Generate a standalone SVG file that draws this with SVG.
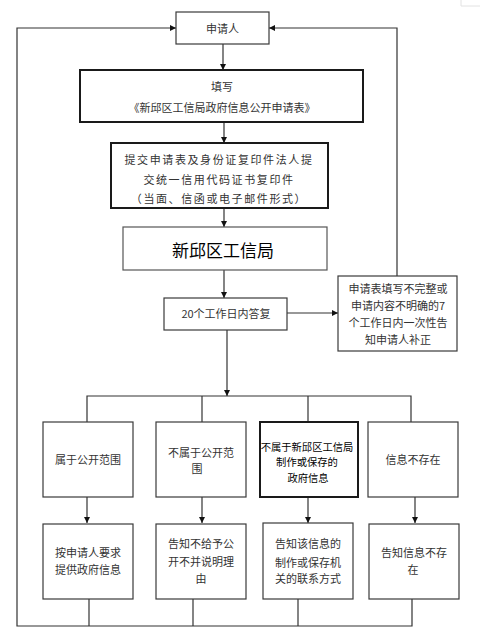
<svg xmlns="http://www.w3.org/2000/svg" width="487" height="641" viewBox="0 0 487 641">
<style>
.box{fill:#fff;stroke:#3a3a3a;stroke-width:1.2}
.thick{fill:#fff;stroke:#1a1a1a;stroke-width:2}
.t{font-family:"Noto Sans CJK SC","Noto Sans",sans-serif;font-size:11px;fill:#333;text-anchor:middle;dominant-baseline:central}
.k{fill:#000}
.ln{fill:none;stroke:#333;stroke-width:1.2}
</style>
<defs>
<marker id="ah" viewBox="0 0 10 10" refX="10" refY="5" markerWidth="6" markerHeight="6" markerUnits="userSpaceOnUse" orient="auto">
<path d="M0,0 L10,5 L0,10 z" fill="#111"/>
</marker>
</defs>
<rect width="487" height="641" fill="#fff"/>
<path d="M461,0 V6 H480" fill="none" stroke="#e2e2e2" stroke-width="1"/>
<g id="connectors">
<path class="ln" d="M223,44 V70" marker-end="url(#ah)"/>
<path class="ln" d="M224,122 V143" marker-end="url(#ah)"/>
<path class="ln" d="M224,208 V227" marker-end="url(#ah)"/>
<path class="ln" d="M224,270 V298" marker-end="url(#ah)"/>
<path class="ln" d="M287,313 H338" marker-end="url(#ah)"/>
<path class="ln" d="M397,276 V28 H269" marker-end="url(#ah)"/>
<path class="ln" d="M227,330 V396" marker-end="url(#ah)"/>
<path class="ln" d="M87,422 V396 H411 V422"/>
<path class="ln" d="M202,396 V422"/>
<path class="ln" d="M308,396 V422"/>
<path class="ln" d="M87,497 V523" marker-end="url(#ah)"/>
<path class="ln" d="M202,497 V523" marker-end="url(#ah)"/>
<path class="ln" d="M308,497 V523" marker-end="url(#ah)"/>
<path class="ln" d="M415,497 V523" marker-end="url(#ah)"/>
<path class="ln" d="M89,599 V626"/>
<path class="ln" d="M193,599 V626"/>
<path class="ln" d="M298,599 V626"/>
<path class="ln" d="M412,599 V626 H17 V28 H176" marker-end="url(#ah)"/>
</g>
<g id="applicant">
<rect class="box" x="176" y="12" width="93" height="32"/>
<text class="t" x="222.5" y="28">申请人</text>
</g>
<g id="fill-form">
<rect class="thick" x="80" y="70" width="283" height="52"/>
<text class="t" x="222" y="86">填写</text>
<text class="t" x="222" y="107">《新邱区工信局政府信息公开申请表》</text>
</g>
<g id="submit">
<rect class="thick" x="111" y="143" width="217" height="65"/>
<text class="t" x="219" y="159" style="letter-spacing:1.6px">提交申请表及身份证复印件法人提</text>
<text class="t" x="219" y="179" style="letter-spacing:1.6px">交统一信用代码证书复印件</text>
<text class="t" x="219" y="198" style="letter-spacing:1.6px">（当面、信函或电子邮件形式）</text>
</g>
<g id="bureau">
<rect class="box" x="123" y="227" width="204" height="43" style="stroke:#555"/>
<text class="t k" x="223" y="249" style="font-size:17px">新邱区工信局</text>
</g>
<g id="reply">
<rect class="box" x="164" y="298" width="123" height="32"/>
<text class="t" x="226" y="313">20个工作日内答复</text>
</g>
<g id="supplement">
<rect class="box" x="338" y="276" width="119" height="75"/>
<text class="t" x="398" y="288">申请表填写不完整或</text>
<text class="t" x="398" y="305">申请内容不明确的7</text>
<text class="t" x="398" y="322">个工作日内一次性告</text>
<text class="t" x="398" y="339">知申请人补正</text>
</g>
<g id="public">
<rect class="box" x="43" y="422" width="90" height="75"/>
<text class="t" x="88" y="459">属于公开范围</text>
</g>
<g id="not-public">
<rect class="box" x="156" y="422" width="90" height="75"/>
<text class="t" x="201" y="452">不属于公开范</text>
<text class="t" x="197" y="468">围</text>
</g>
<g id="not-ours">
<rect class="thick" x="260" y="422" width="98" height="75"/>
<text class="t k" x="307" y="446" style="font-size:10.3px">不属于新邱区工信局</text>
<text class="t k" x="307" y="461" style="font-size:10.3px">制作或保存的</text>
<text class="t k" x="308" y="477" style="font-size:10.3px">政府信息</text>
</g>
<g id="not-exist">
<rect class="box" x="368" y="422" width="90" height="75"/>
<text class="t" x="413" y="459">信息不存在</text>
</g>
<g id="provide">
<rect class="box" x="43" y="524" width="90" height="75"/>
<text class="t" x="88" y="552">按申请人要求</text>
<text class="t" x="88" y="569">提供政府信息</text>
</g>
<g id="refuse">
<rect class="box" x="156" y="524" width="90" height="75"/>
<text class="t" x="201" y="543">告知不给予公</text>
<text class="t" x="201" y="561">开不并说明理</text>
<text class="t" x="201" y="578">由</text>
</g>
<g id="contact">
<rect class="box" x="263" y="523" width="90" height="76"/>
<text class="t" x="308" y="543">告知该信息的</text>
<text class="t" x="308" y="562">制作或保存机</text>
<text class="t" x="308" y="578">关的联系方式</text>
</g>
<g id="notify-none">
<rect class="box" x="369" y="524" width="90" height="75"/>
<text class="t" x="414" y="552">告知信息不存</text>
<text class="t" x="413" y="569">在</text>
</g>
</svg>
